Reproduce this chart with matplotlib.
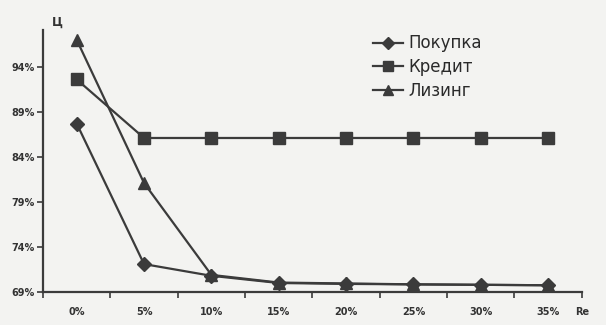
import matplotlib.pyplot as plt
import numpy as np

# Data
categories = ["0%", "5%", "10%", "15%", "20%", "25%", "30%", "35%"]
pokupka = [87.7, 72.1, 70.8, 70.0, 69.9, 69.85, 69.8, 69.75]
kredit = [92.6, 86.1, 86.1, 86.1, 86.1, 86.1, 86.1, 86.1]
lizing = [97.0, 81.1, 70.9, 70.05, 69.95, 69.85, 69.8, 69.75]
yticks = [69, 74, 79, 84, 89, 94]

LINE = '#3b3b3b'
BG = '#f3f3f1'

fig = plt.figure(figsize=(6.06, 3.25), dpi=100, facecolor=BG)
ax = fig.add_axes([0.071, 0.1015, 0.889, 0.8065], facecolor=BG)

x = np.arange(len(categories))
ax.plot(x, pokupka, color=LINE, lw=1.6, marker='D', ms=7, label='Покупка')
ax.plot(x, kredit, color=LINE, lw=1.6, marker='s', ms=8, label='Кредит')
ax.plot(x, lizing, color=LINE, lw=1.6, marker='^', ms=9, label='Лизинг')

ax.set_xlim(-0.5, len(categories) - 0.5)
ax.set_ylim(69, 98.1)

ax.set_yticks(yticks)
ax.set_yticklabels([f"{v}%" for v in yticks], fontsize=7, fontweight='bold', color='#333333')
ax.set_xticks(x)
ax.set_xticklabels(categories, fontsize=7, fontweight='bold', color='#333333')
ax.set_xticks(np.arange(len(categories) + 1) - 0.5, minor=True)
ax.tick_params(axis='x', which='major', length=0, pad=11)
ax.tick_params(axis='x', which='minor', length=4, width=1.2, color=LINE)
ax.tick_params(axis='y', length=4, width=1.2, color=LINE, pad=2)

for side in ['top', 'right']:
    ax.spines[side].set_visible(False)
for side in ['left', 'bottom']:
    ax.spines[side].set_color(LINE)
    ax.spines[side].set_linewidth(1.6)

ax.text(len(categories) - 0.5, -0.058, "Re", transform=ax.get_xaxis_transform(),
        fontsize=7, fontweight='bold', color='#333333', ha='center', va='top')
fig.text(0.094, 0.92, "Ц", fontsize=8.5, fontweight='bold', color='#333333', ha='center')

leg = ax.legend(loc='upper left', bbox_to_anchor=(0.585, 1.04), frameon=False,
                fontsize=12, handlelength=1.8, handletextpad=0.3, labelspacing=0.35,
                markerscale=0.85)
for t in leg.get_texts():
    t.set_color('#2a2a2a')

fig.savefig('out.png', dpi=100, facecolor=BG)
